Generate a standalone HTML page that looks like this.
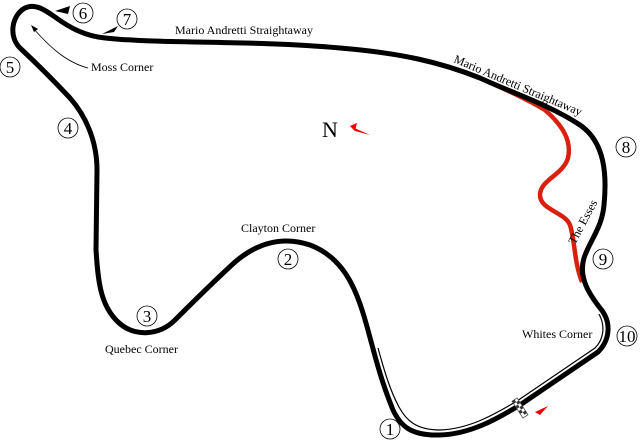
<!DOCTYPE html>
<html><head><style>
html,body{margin:0;padding:0;background:#fff;}
svg{display:block;}
text{font-family:"Liberation Serif",serif;fill:#000;}
</style></head><body>
<svg width="640" height="443" viewBox="0 0 640 443" xmlns="http://www.w3.org/2000/svg">
<!-- red esses -->
<path d="M480,78 C500,87 525,98 545,110 C562,125 572,140 568,158 C563,175 540,180 540,195 C540,210 565,212 570,225 C575,240 574,262 582,282" fill="none" stroke="#d9200f" stroke-width="4.5"/>
<!-- inner thin line bottom -->
<path d="M378,348 C386,377 391,392 399,407 C406,420 416,430 440,430 C468,429 492,416 517,401 L595,348 C603,340 606,327 599,314" fill="none" stroke="#000" stroke-width="1.2"/>
<!-- track -->
<path d="M105,38 C160,44 250,40 340,48 C400,53 440,62 480,78 C510,92 550,105 580,125 C605,142 607,175 604,205 C602,228 590,240 584,258 C578,278 590,295 600,308 C612,322 610,340 598,352 L520,405 C495,420 470,434 440,435 C410,436 400,425 393,410 C385,390 380,375 372,345 C360,300 350,260 310,245 C280,235 255,245 235,262 C210,285 190,305 175,320 C160,335 135,338 118,322 C100,305 98,280 96,250 L97,170 C97,140 85,115 70,98 C55,82 35,62 20,48 C8,36 12,15 25,8 C35,3 45,10 55,17 C70,28 85,36 105,38 Z" fill="none" stroke="#000" stroke-width="5" stroke-linejoin="round"/>
<!-- start/finish checker -->
<g transform="translate(520,408) rotate(-33)">
<rect x="-3" y="-10" width="6" height="20" fill="#fff" stroke="#555" stroke-width="0.8"/>
<rect x="-3" y="-10" width="3" height="3" fill="#333"/><rect x="0" y="-7" width="3" height="3" fill="#333"/>
<rect x="-3" y="-4" width="3" height="3" fill="#333"/><rect x="0" y="-1" width="3" height="3" fill="#333"/>
<rect x="-3" y="2" width="3" height="3" fill="#333"/><rect x="0" y="5" width="3" height="3" fill="#333"/>
</g>
<polygon points="548,406 535,412 540,415" fill="#e00"/>
<!-- N arrow -->
<text x="322" y="137" font-size="22">N</text>
<polygon points="350,126 370,135 355,131" fill="#e00"/>
<polygon points="350,126 357,123 355,131" fill="#e00"/>
<!-- small black arrows near 6,7 -->
<polygon points="55,11 70,6 68,14" fill="#000"/>
<polygon points="102,34 118,26 114,32" fill="#000"/>
<!-- moss corner pointer -->
<path d="M88,68 C65,62 48,45 33,28" fill="none" stroke="#000" stroke-width="0.8"/>
<polygon points="31,25 38,29 34,32" fill="#000"/>
<!-- numbers -->
<g fill="#fff" stroke="#000" stroke-width="0.8">
<circle cx="83" cy="13" r="10"/><circle cx="127" cy="19" r="10"/><circle cx="10" cy="67" r="10"/>
<circle cx="68" cy="128" r="10"/><circle cx="147" cy="316" r="10"/><circle cx="288" cy="259" r="10"/>
<circle cx="390" cy="429" r="10"/><circle cx="627" cy="336" r="10"/><circle cx="603" cy="259" r="10"/>
<circle cx="626" cy="147" r="10"/>
</g>
<g font-size="17" text-anchor="middle">
<text x="83" y="19">6</text><text x="127" y="25">7</text><text x="10" y="73">5</text>
<text x="68" y="134">4</text><text x="147" y="322">3</text><text x="288" y="265">2</text>
<text x="390" y="435">1</text><text x="627" y="342">10</text><text x="603" y="265">9</text>
<text x="626" y="153">8</text>
</g>
<g font-size="12">
<text x="175" y="34">Mario Andretti Straightaway</text>
<text x="91" y="71">Moss Corner</text>
<text x="241" y="232">Clayton Corner</text>
<text x="105" y="353">Quebec Corner</text>
<text x="522" y="338">Whites Corner</text>
<text transform="translate(453,62) rotate(23)">Mario Andretti Straightaway</text>
<text transform="translate(575,245) rotate(-62)">The Esses</text>
</g>
</svg>
</body></html>
